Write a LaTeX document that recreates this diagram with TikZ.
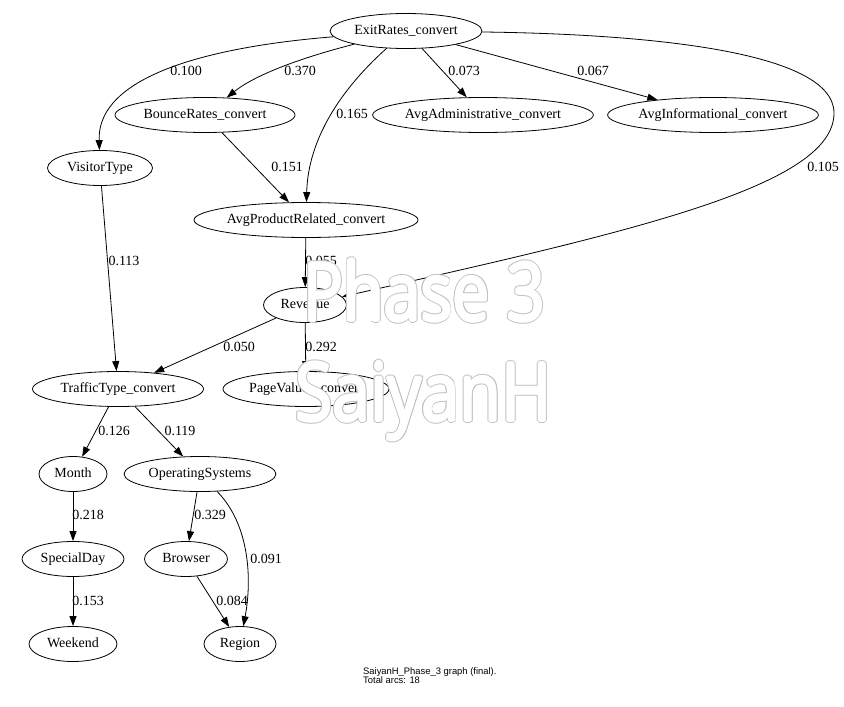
\documentclass[tikz,border=0pt]{standalone}
\usepackage{fontspec}
\setmainfont{Liberation Serif}
\newfontfamily\capfont{Liberation Sans}
\newfontfamily\wmfont{Open Sans}
\usetikzlibrary{arrows.meta,shapes.geometric}
\definecolor{wmgray}{RGB}{195,195,195}
\begin{document}
\begin{tikzpicture}[x=1pt,y=-1pt,
  gnode/.style={draw, ellipse, line width=0.8pt, inner sep=0pt, minimum height=35pt,
    text height=10pt, text depth=3pt, font=\fontsize{14}{16}\selectfont},
  elbl/.style={inner sep=0pt, font=\fontsize{14}{16}\selectfont},
  arc/.style={draw, line width=0.8pt, -{Triangle[length=10pt,width=7pt]}},
  wmo/.style={inner sep=0pt, anchor=base west, text=wmgray,
    font=\wmfont\fontsize{81}{81}\selectfont},
  wmf/.style={inner sep=0pt, anchor=base west, text=white,
    font=\wmfont\fontsize{81}{81}\selectfont},
  capstyle/.style={inner sep=0pt, anchor=north west, align=left,
    font=\capfont\fontsize{9.4}{9}\selectfont}
]
\useasboundingbox (0,0) rectangle (844,707);
\fill[white] (0,0) rectangle (844,707);

% nodes
\node[gnode, minimum width=152pt] (ER)  at (406,31)  {ExitRates\_convert};
\node[gnode, minimum width=180pt] (BR)  at (205,115) {BounceRates\_convert};
\node[gnode, minimum width=216pt] (AA)  at (483,115) {AvgAdministrative\_convert};
\node[gnode, minimum width=210pt] (AI)  at (713,115) {AvgInformational\_convert};
\node[gnode, minimum width=105pt] (VT)  at (100,168) {VisitorType};
\node[gnode, minimum width=224pt] (APR) at (306,220) {AvgProductRelated\_convert};
\node[gnode, minimum width=83pt]  (Rev) at (305,305) {Revenue};
\node[gnode, minimum width=171pt] (TT)  at (118,389) {TrafficType\_convert};
\node[gnode, minimum width=166pt] (PV)  at (306,389) {PageValues\_convert};
\node[gnode, minimum width=68pt]  (Mo)  at (73,474)  {Month};
\node[gnode, minimum width=152pt] (OS)  at (200,474) {OperatingSystems};
\node[gnode, minimum width=102pt] (SD)  at (73,559)  {SpecialDay};
\node[gnode, minimum width=83pt]  (Br)  at (186,559) {Browser};
\node[gnode, minimum width=88pt]  (We)  at (73,644)  {Weekend};
\node[gnode, minimum width=72pt]  (Re)  at (240,644) {Region};

\coordinate (c105) at (834,113);

% edges
\draw[arc] (ER) .. controls (230,45) and (97,70) .. (VT);
\draw[arc] (ER) .. controls (300,58) and (255,75) .. (BR);
\draw[arc] (ER) .. controls (340,90) and (308,140) .. (APR);
\draw[arc] (ER) -- (AA);
\draw[arc] (ER) -- (AI);
\draw[arc] (ER) .. controls (640,34) and (834,50) .. (c105)
               .. controls (834,185) and (640,230) .. (Rev);
\draw[arc] (BR) -- (APR);
\draw[arc] (VT) -- (TT);
\draw[arc] (APR) -- (Rev);
\draw[arc] (Rev) -- (TT);
\draw[arc] (Rev) -- (PV);
\draw[arc] (TT) -- (Mo);
\draw[arc] (TT) -- (OS);
\draw[arc] (Mo) -- (SD);
\draw[arc] (SD) -- (We);
\draw[arc] (OS) -- (Br);
\draw[arc] (OS) .. controls (250,525) and (252,580) .. (Re);
\draw[arc] (Br) -- (Re);

% edge labels
\node[elbl] (l100) at (186,71)  {0.100};
\node[elbl] (l370) at (300,71)  {0.370};
\node[elbl] (l165) at (352,114) {0.165};
\node[elbl] (l073) at (464,71)  {0.073};
\node[elbl] (l067) at (593,71)  {0.067};
\node[elbl] (l105) at (823,167) {0.105};
\node[elbl] (l151) at (287,167) {0.151};
\node[elbl] (l113) at (124,261) {0.113};
\node[elbl] (l055) at (321,261) {0.055};
\node[elbl] (l050) at (239,347) {0.050};
\node[elbl] (l292) at (321,347) {0.292};
\node[elbl] (l126) at (114,431) {0.126};
\node[elbl] (l119) at (180,431) {0.119};
\node[elbl] (l218) at (88,515)  {0.218};
\node[elbl] (l329) at (210,515) {0.329};
\node[elbl] (l091) at (266,559) {0.091};
\node[elbl] (l153) at (88,601)  {0.153};
\node[elbl] (l084) at (232,601) {0.084};

% caption
\node[capstyle] (cap) at (363,667) {SaiyanH\_Phase\_3 graph (final).\\Total arcs: 18};

% watermark (outlined white text)
\foreach \a in {0,22.5,...,337.5}{
  \path (303,321) ++(\a:2.1) node[wmo] (wmpo\a) {\scalebox{0.82}[1]{Phase 3}};
  \path (295,421) ++(\a:2.1) node[wmo] (wmso\a) {\scalebox{0.84}[1]{SaiyanH}};
}
\foreach \a in {0,45,...,315}{
  \path (303,321) ++(\a:1.2) node[wmf] (wmpf\a) {\scalebox{0.82}[1]{Phase 3}};
  \path (295,421) ++(\a:1.2) node[wmf] (wmsf\a) {\scalebox{0.84}[1]{SaiyanH}};
}
\node[wmf] (wmp) at (303,321) {\scalebox{0.82}[1]{Phase 3}};
\node[wmf] (wms) at (295,421) {\scalebox{0.84}[1]{SaiyanH}};
\end{tikzpicture}
\end{document}
